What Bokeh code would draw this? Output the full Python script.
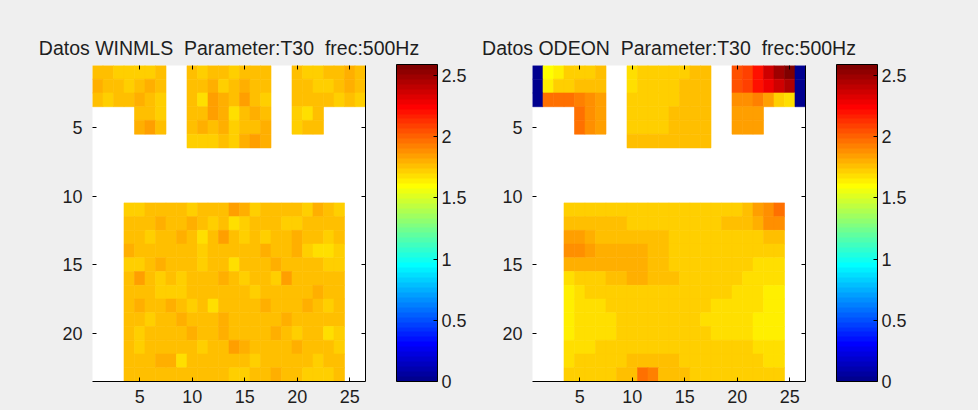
import numpy as np
from bokeh.plotting import figure
from bokeh.models import (ColumnDataSource, LinearColorMapper, ColorBar, FixedTicker,
                          LinearAxis, Range1d, CustomJSTickFormatter)
from bokeh.layouts import row
from bokeh.transform import transform
from bokeh.embed import file_html
from bokeh.resources import INLINE

n = None

titles = ["Datos WINMLS \u00a0Parameter:T30 \u00a0frec:500Hz",
          "Datos ODEON \u00a0Parameter:T30 \u00a0frec:500Hz"]
x_ticks = [5, 10, 15, 20, 25]
y_ticks = [5, 10, 15, 20]
cbar_ticks = [0, 0.5, 1, 1.5, 2, 2.5]
c_low, c_high = 0.0, 2.59

# T30 (s) per cell, rows 1..23, columns 1..26 (None = no measurement)
winmls = [
    [1.76, 1.76, 1.74, 1.71, 1.72, 1.74, 1.76, n, n, 1.76, 1.74, 1.76, 1.78, 1.74, 1.76, 1.76, 1.78, n, n, 1.76, 1.74, 1.74, 1.76, 1.76, 1.80, 1.76],
    [1.80, 1.78, 1.76, 1.72, 1.76, 1.82, 1.76, n, n, 1.78, 1.76, 1.80, 1.74, 1.78, 1.82, 1.76, 1.76, n, n, 1.78, 1.76, 1.74, 1.70, 1.76, 1.82, 1.76],
    [1.76, 1.74, 1.76, 1.78, 1.80, 1.76, 1.74, n, n, 1.76, 1.66, 1.84, 1.82, 1.76, 1.84, 1.76, 1.74, n, n, 1.76, 1.76, 1.78, 1.76, 1.74, 1.78, 1.74],
    [n, n, n, n, 1.78, 1.76, 1.74, n, n, 1.78, 1.76, 1.84, 1.80, 1.68, 1.76, 1.80, 1.78, n, n, 1.72, 1.68, 1.76, n, n, n, n],
    [n, n, n, n, 1.82, 1.84, 1.76, n, n, 1.76, 1.80, 1.78, 1.82, 1.70, 1.76, 1.78, 1.82, n, n, 1.74, 1.76, 1.76, n, n, n, n],
    [n, n, n, n, n, n, n, n, n, 1.74, 1.72, 1.74, 1.76, 1.74, 1.80, 1.84, 1.82, n, n, n, n, n, n, n, n, n],
    [n] * 26,
    [n] * 26,
    [n] * 26,
    [n] * 26,
    [n, n, n, 1.72, 1.74, 1.76, 1.76, 1.78, 1.76, 1.74, 1.76, 1.78, 1.76, 1.84, 1.80, 1.74, 1.76, 1.76, 1.78, 1.76, 1.74, 1.80, 1.76, 1.74, n, n],
    [n, n, n, 1.76, 1.78, 1.76, 1.80, 1.78, 1.76, 1.80, 1.76, 1.74, 1.76, 1.68, 1.70, 1.76, 1.78, 1.76, 1.74, 1.72, 1.76, 1.78, 1.76, 1.76, n, n],
    [n, n, n, 1.78, 1.76, 1.70, 1.76, 1.78, 1.82, 1.76, 1.68, 1.76, 1.84, 1.76, 1.74, 1.76, 1.72, 1.76, 1.78, 1.80, 1.76, 1.76, 1.74, 1.76, n, n],
    [n, n, n, 1.80, 1.78, 1.76, 1.76, 1.78, 1.76, 1.78, 1.74, 1.76, 1.76, 1.78, 1.76, 1.76, 1.82, 1.76, 1.76, 1.80, 1.74, 1.68, 1.68, 1.70, n, n],
    [n, n, n, 1.74, 1.74, 1.78, 1.80, 1.76, 1.76, 1.78, 1.70, 1.76, 1.78, 1.68, 1.76, 1.78, 1.76, 1.80, 1.76, 1.78, 1.76, 1.76, 1.72, 1.74, n, n],
    [n, n, n, 1.76, 1.86, 1.76, 1.74, 1.76, 1.72, 1.78, 1.76, 1.78, 1.82, 1.76, 1.74, 1.76, 1.76, 1.74, 1.86, 1.76, 1.78, 1.76, 1.76, 1.76, n, n],
    [n, n, n, 1.78, 1.78, 1.76, 1.74, 1.74, 1.74, 1.76, 1.78, 1.76, 1.76, 1.78, 1.76, 1.74, 1.76, 1.78, 1.76, 1.78, 1.76, 1.80, 1.76, 1.78, n, n],
    [n, n, n, 1.78, 1.80, 1.76, 1.78, 1.80, 1.76, 1.72, 1.76, 1.68, 1.76, 1.76, 1.78, 1.76, 1.80, 1.78, 1.76, 1.76, 1.80, 1.76, 1.74, 1.76, n, n],
    [n, n, n, 1.76, 1.78, 1.72, 1.76, 1.78, 1.82, 1.76, 1.78, 1.76, 1.80, 1.76, 1.76, 1.78, 1.76, 1.76, 1.80, 1.78, 1.76, 1.76, 1.78, 1.76, n, n],
    [n, n, n, 1.78, 1.72, 1.76, 1.78, 1.76, 1.78, 1.82, 1.76, 1.78, 1.80, 1.76, 1.78, 1.76, 1.76, 1.80, 1.76, 1.74, 1.76, 1.78, 1.68, 1.70, n, n],
    [n, n, n, 1.76, 1.74, 1.78, 1.76, 1.76, 1.78, 1.76, 1.74, 1.76, 1.78, 1.84, 1.80, 1.76, 1.78, 1.76, 1.76, 1.80, 1.76, 1.78, 1.76, 1.74, n, n],
    [n, n, n, 1.78, 1.76, 1.76, 1.82, 1.82, 1.68, 1.76, 1.76, 1.78, 1.76, 1.78, 1.76, 1.74, 1.76, 1.78, 1.76, 1.76, 1.76, 1.72, 1.76, 1.76, n, n],
    [n, n, n, 1.76, 1.76, 1.78, 1.76, 1.78, 1.76, 1.78, 1.76, 1.76, 1.78, 1.74, 1.74, 1.76, 1.78, 1.82, 1.76, 1.76, 1.70, 1.72, 1.74, 1.76, n, n],
]

odeon = [
    [0.00, 1.58, 1.64, 1.70, 1.74, 1.74, 1.75, n, n, 1.68, 1.70, 1.71, 1.72, 1.73, 1.74, 1.75, 1.76, n, n, 2.05, 2.10, 2.22, 2.35, 2.50, 2.56, 0.00],
    [0.00, 1.64, 1.70, 1.74, 1.76, 1.76, 1.77, n, n, 1.69, 1.71, 1.72, 1.73, 1.74, 1.75, 1.76, 1.77, n, n, 2.03, 2.10, 2.20, 2.30, 2.38, 2.45, 0.00],
    [0.00, 1.97, 1.97, 1.96, 1.94, 1.88, 1.84, n, n, 1.70, 1.72, 1.73, 1.74, 1.74, 1.75, 1.76, 1.77, n, n, 1.88, 1.90, 1.92, 1.84, 1.74, 1.66, 0.00],
    [n, n, n, n, 1.97, 1.90, 1.84, n, n, 1.72, 1.72, 1.73, 1.74, 1.75, 1.76, 1.76, 1.77, n, n, 1.84, 1.84, 1.85, n, n, n, n],
    [n, n, n, n, 1.97, 1.90, 1.84, n, n, 1.73, 1.73, 1.74, 1.74, 1.75, 1.76, 1.77, 1.77, n, n, 1.83, 1.84, 1.84, n, n, n, n],
    [n, n, n, n, n, n, n, n, n, 1.76, 1.76, 1.76, 1.76, 1.76, 1.77, 1.77, 1.77, n, n, n, n, n, n, n, n, n],
    [n] * 26,
    [n] * 26,
    [n] * 26,
    [n] * 26,
    [n, n, n, 1.74, 1.74, 1.74, 1.74, 1.74, 1.74, 1.74, 1.74, 1.74, 1.74, 1.74, 1.74, 1.74, 1.74, 1.74, 1.74, 1.74, 1.78, 1.83, 1.88, 1.95, n, n],
    [n, n, n, 1.75, 1.75, 1.75, 1.75, 1.75, 1.75, 1.74, 1.74, 1.74, 1.74, 1.74, 1.74, 1.74, 1.74, 1.74, 1.75, 1.76, 1.78, 1.82, 1.88, 1.90, n, n],
    [n, n, n, 1.84, 1.84, 1.80, 1.78, 1.78, 1.78, 1.78, 1.78, 1.77, 1.76, 1.74, 1.74, 1.74, 1.74, 1.74, 1.74, 1.74, 1.74, 1.74, 1.75, 1.76, n, n],
    [n, n, n, 1.88, 1.88, 1.86, 1.80, 1.80, 1.80, 1.79, 1.79, 1.76, 1.75, 1.74, 1.74, 1.73, 1.73, 1.72, 1.72, 1.71, 1.70, 1.70, 1.70, 1.70, n, n],
    [n, n, n, 1.80, 1.80, 1.79, 1.79, 1.79, 1.79, 1.79, 1.79, 1.76, 1.75, 1.74, 1.73, 1.73, 1.72, 1.72, 1.71, 1.70, 1.70, 1.69, 1.69, 1.69, n, n],
    [n, n, n, 1.66, 1.74, 1.74, 1.74, 1.76, 1.76, 1.79, 1.79, 1.76, 1.75, 1.75, 1.73, 1.73, 1.72, 1.71, 1.70, 1.70, 1.69, 1.68, 1.68, 1.68, n, n],
    [n, n, n, 1.62, 1.68, 1.70, 1.70, 1.72, 1.74, 1.74, 1.74, 1.74, 1.74, 1.74, 1.72, 1.72, 1.71, 1.70, 1.70, 1.69, 1.68, 1.66, 1.65, 1.64, n, n],
    [n, n, n, 1.63, 1.66, 1.68, 1.68, 1.70, 1.70, 1.71, 1.71, 1.71, 1.71, 1.71, 1.70, 1.70, 1.70, 1.69, 1.69, 1.68, 1.67, 1.66, 1.64, 1.63, n, n],
    [n, n, n, 1.64, 1.66, 1.68, 1.68, 1.69, 1.70, 1.70, 1.70, 1.70, 1.70, 1.70, 1.70, 1.70, 1.69, 1.69, 1.68, 1.67, 1.66, 1.65, 1.64, 1.63, n, n],
    [n, n, n, 1.65, 1.67, 1.68, 1.68, 1.69, 1.70, 1.70, 1.70, 1.71, 1.72, 1.72, 1.72, 1.71, 1.70, 1.69, 1.68, 1.67, 1.66, 1.65, 1.64, 1.64, n, n],
    [n, n, n, 1.66, 1.68, 1.69, 1.70, 1.70, 1.71, 1.72, 1.73, 1.74, 1.74, 1.74, 1.74, 1.73, 1.72, 1.72, 1.71, 1.71, 1.70, 1.68, 1.66, 1.66, n, n],
    [n, n, n, 1.68, 1.70, 1.72, 1.72, 1.73, 1.74, 1.76, 1.77, 1.77, 1.76, 1.76, 1.74, 1.73, 1.73, 1.73, 1.74, 1.74, 1.72, 1.70, 1.68, 1.67, n, n],
    [n, n, n, 1.72, 1.72, 1.73, 1.73, 1.74, 1.76, 1.76, 1.95, 1.93, 1.78, 1.76, 1.75, 1.74, 1.73, 1.73, 1.73, 1.73, 1.72, 1.72, 1.71, 1.70, n, n],
]


def jet(m=64):
    k = int(np.ceil(m / 4))
    u = np.concatenate([np.arange(1, k + 1) / k, np.ones(k - 1), np.arange(k, 0, -1) / k])
    g = int(np.ceil(k / 2)) - (1 if m % 4 == 1 else 0) + np.arange(1, len(u) + 1)
    r = g + k
    b = g - k
    g = g[g <= m]
    r = r[r <= m]
    b = b[b >= 1]
    J = np.zeros((m, 3))
    J[r - 1, 0] = u[:len(r)]
    J[g - 1, 1] = u[:len(g)]
    J[b - 1, 2] = u[-len(b):]
    return ["#%02x%02x%02x" % tuple(int(round(c * 255)) for c in rgb) for rgb in J]


palette = jet(64)
FONT = "Liberation Sans"
BG = "#efefef"
TXT = "#1e1e1e"
blank = CustomJSTickFormatter(code="return ''")


def panel(grid, title, left_border, right_border):
    xs, ys, vs = [], [], []
    for ri, rowvals in enumerate(grid):
        for ci, v in enumerate(rowvals):
            if v is not None:
                xs.append(ci + 1)
                ys.append(ri + 1)
                vs.append(v)
    src = ColumnDataSource(dict(x=xs, y=ys, v=vs))
    mapper = LinearColorMapper(palette=palette, low=c_low, high=c_high)

    p = figure(x_range=Range1d(0.5, 26.5), y_range=Range1d(23.5, 0.5),
               frame_width=273, frame_height=316,
               min_border_left=left_border, min_border_right=right_border,
               min_border_top=65, min_border_bottom=29,
               output_backend="svg", toolbar_location=None,
               background_fill_color="white", border_fill_color=BG,
               outline_line_color=None, title=title)
    p.rect(x="x", y="y", width=1, height=1, source=src,
           fill_color=transform("v", mapper), line_color=transform("v", mapper),
           line_width=0.6)

    p.title.align = "center"
    p.title.text_font = FONT
    p.title.text_font_size = "19.5px"
    p.title.text_font_style = "normal"
    p.title.text_color = TXT
    p.title.standoff = 14

    p.grid.visible = False
    for ax in (p.xaxis[0], p.yaxis[0]):
        ax.major_tick_in = 4
        ax.major_tick_out = 0
        ax.minor_tick_line_color = None
        ax.major_label_text_font = FONT
        ax.major_label_text_font_size = "18px"
        ax.major_label_text_color = TXT
        ax.major_tick_line_color = "black"
    p.xaxis.major_label_standoff = 8
    p.yaxis.major_label_standoff = 10
    p.xaxis.ticker = FixedTicker(ticks=x_ticks)
    p.yaxis.ticker = FixedTicker(ticks=y_ticks)
    p.xaxis.axis_line_color = "black"
    p.yaxis.axis_line_color = None

    top = LinearAxis(ticker=FixedTicker(ticks=x_ticks), formatter=blank,
                     major_tick_in=4, major_tick_out=0,
                     minor_tick_line_color=None, axis_line_color=None,
                     major_label_standoff=0)
    right = LinearAxis(ticker=FixedTicker(ticks=y_ticks), formatter=blank,
                       major_tick_in=4, major_tick_out=0,
                       minor_tick_line_color=None, axis_line_color="black",
                       major_label_standoff=0)
    p.add_layout(top, "above")
    p.add_layout(right, "right")

    cb = ColorBar(color_mapper=mapper, ticker=FixedTicker(ticks=cbar_ticks),
                  formatter=CustomJSTickFormatter(code="return String(tick)"),
                  width=41, height=317, padding=0, margin=0, location=(31, 0),
                  major_tick_in=4, major_tick_out=0, major_tick_line_color="black",
                  minor_tick_line_color=None,
                  bar_line_color="black", border_line_color=None,
                  background_fill_color=None, label_standoff=4,
                  major_label_text_font=FONT, major_label_text_font_size="18px",
                  major_label_text_color=TXT)
    p.add_layout(cb, "right")
    return p


p1 = panel(winmls, titles[0], 92, 105)
p2 = panel(odeon, titles[1], 62, 173)
layout = row(p1, p2, spacing=0)
layout.styles = {"background-color": BG}

open("out.html", "w").write(file_html(layout, INLINE))
